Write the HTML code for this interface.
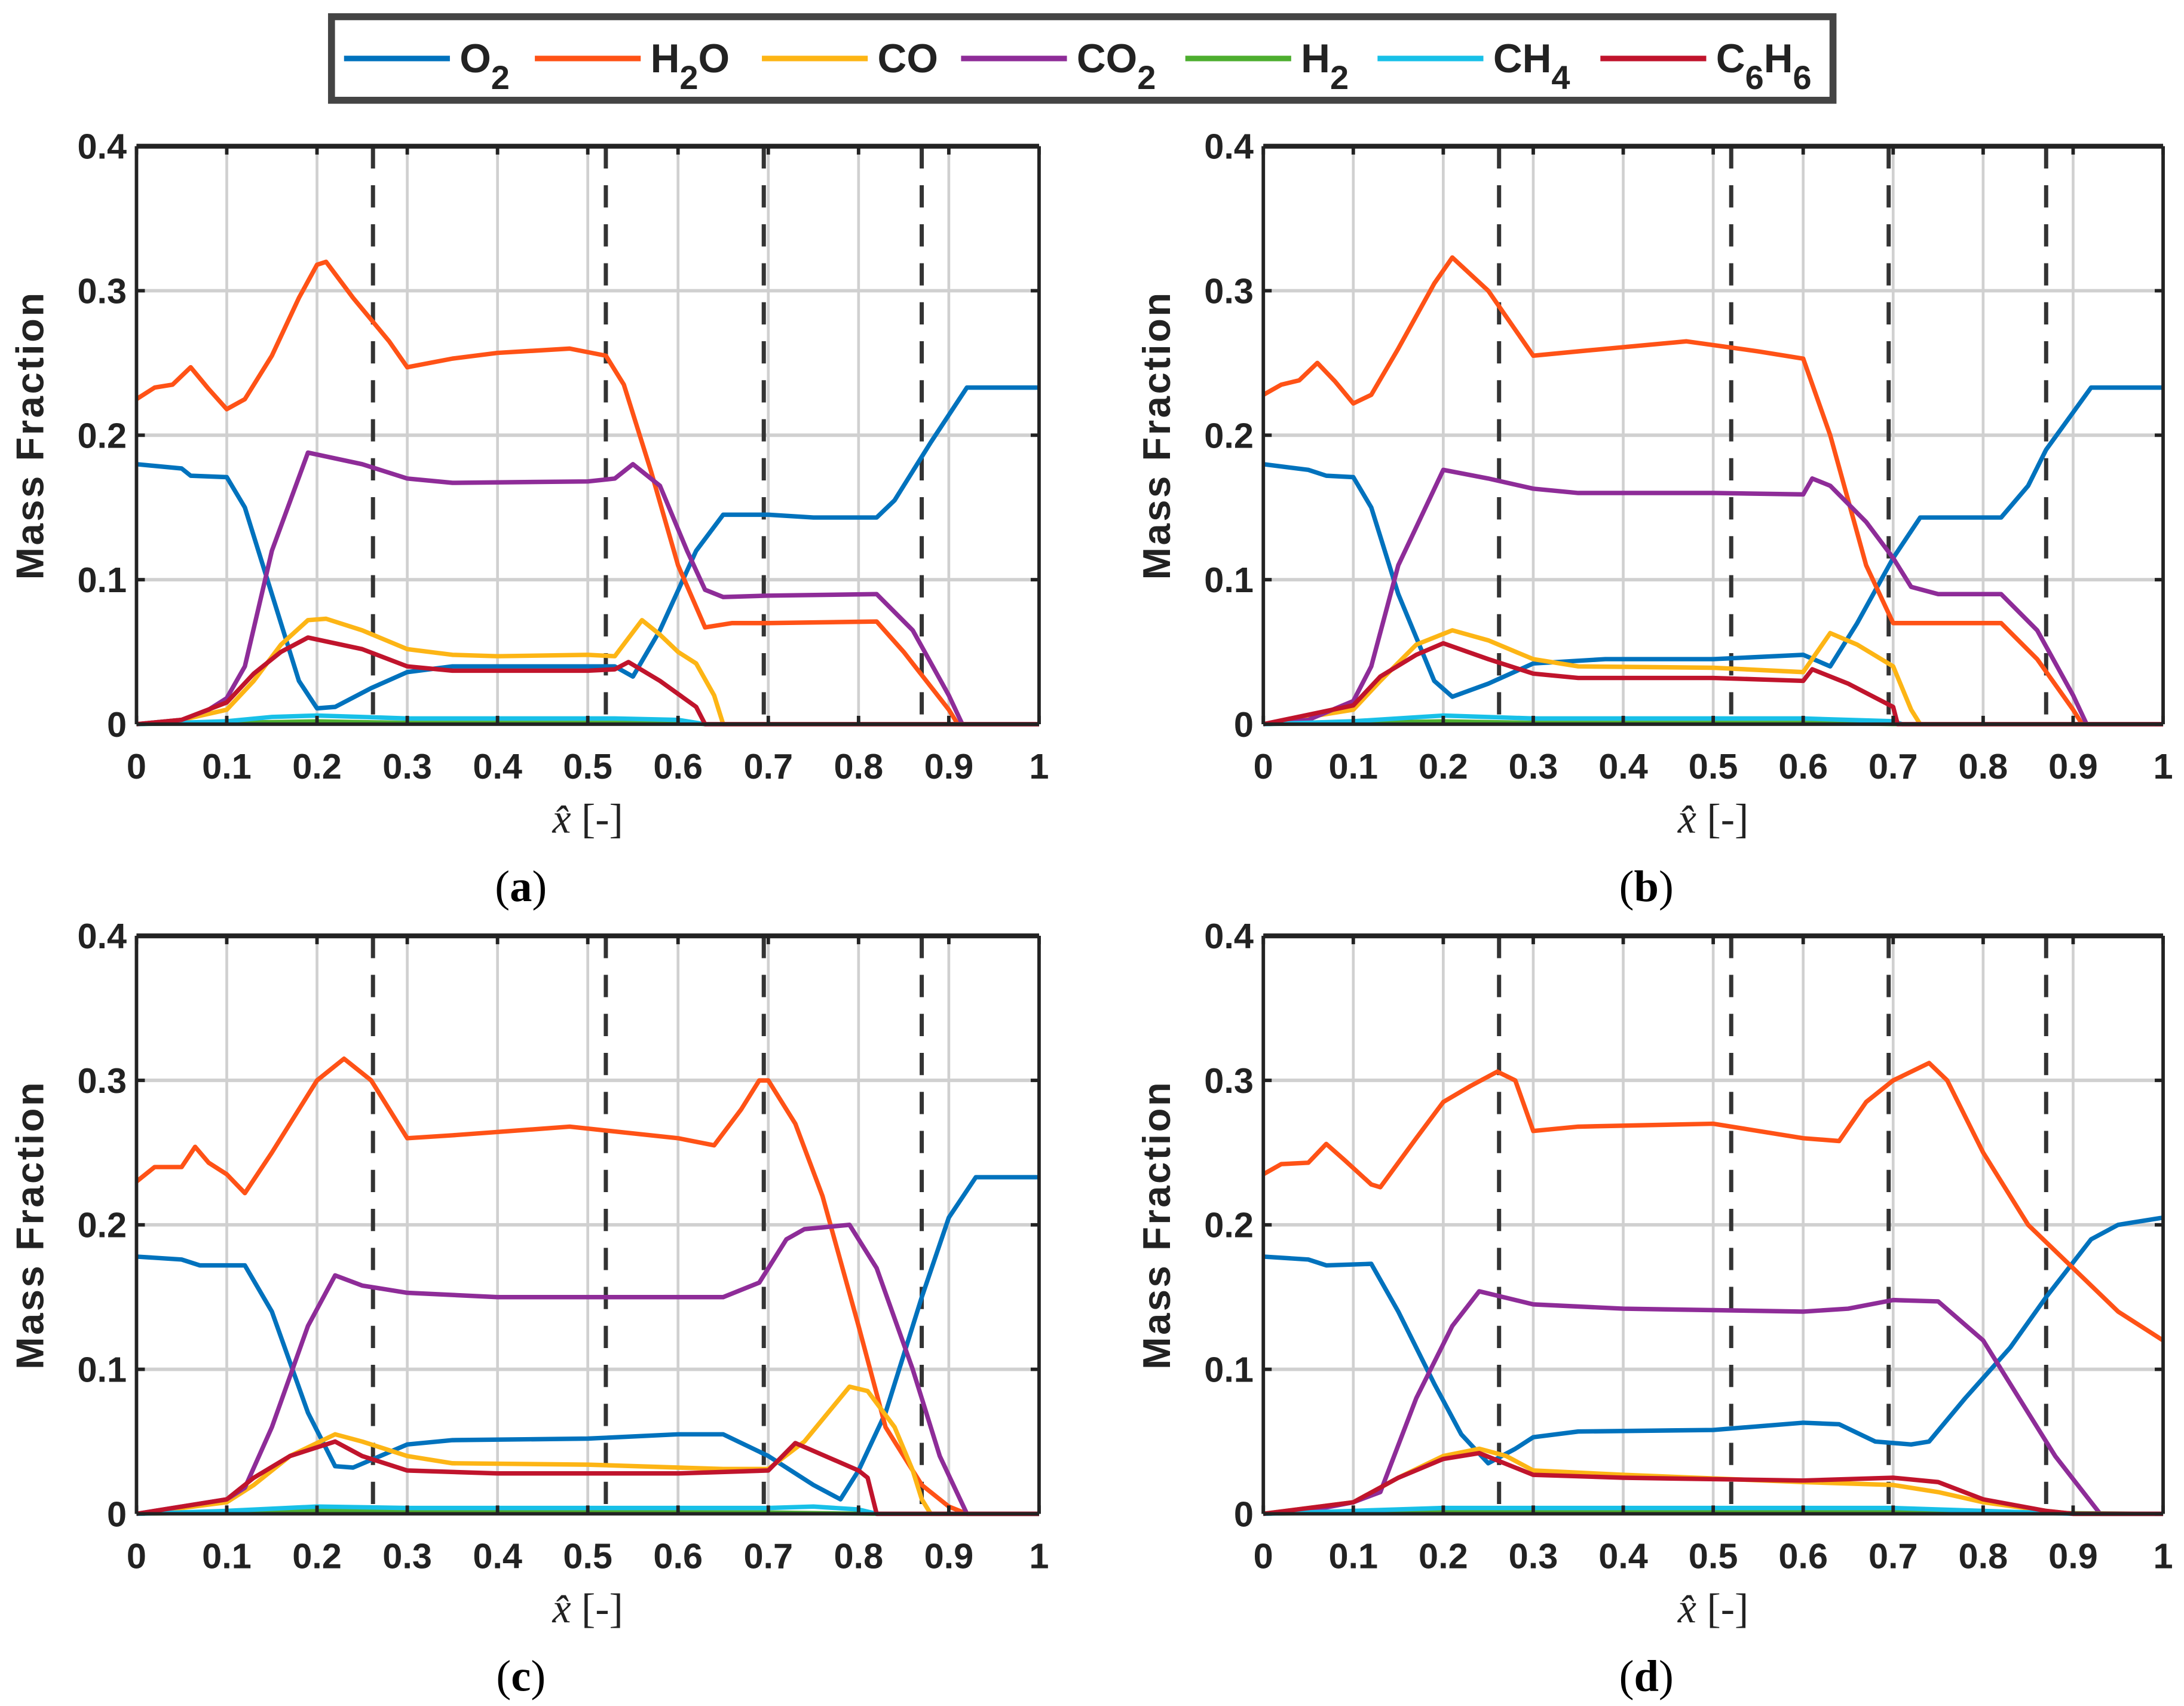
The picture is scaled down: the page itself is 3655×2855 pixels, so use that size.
<!DOCTYPE html>
<html><head><meta charset="utf-8"><style>
html,body{margin:0;padding:0;background:#fff}
svg{display:block}
text{font-family:"Liberation Sans",Arial,sans-serif}
.tk{font-weight:bold;font-size:25.5px;fill:#222}
.serif{font-family:"Liberation Serif",serif}
</style></head><body>
<svg id="fig" xmlns="http://www.w3.org/2000/svg" width="3655" height="2855" viewBox="0 0 1568 1225" preserveAspectRatio="none">
<g id="legend">
<rect x="238" y="12" width="1078" height="60" fill="#fff" stroke="#444" stroke-width="5"/>
</g>
</svg>
<script>
const species = ["O2","H2O","CO","CO2","H2","CH4","C6H6"];
const colors = ["#0072BD","#FF5216","#FDB515","#8E2C98","#4DAE2F","#18C0E8","#C0142C"];
const yTicks = [0,0.1,0.2,0.3,0.4];
const xTicks = [0,0.1,0.2,0.3,0.4,0.5,0.6,0.7,0.8,0.9,1];
const dashedX = [0.262,0.52,0.695,0.87];
// panel a
const a_O2=[[0,0.18],[0.05,0.177],[0.06,0.172],[0.1,0.171],[0.12,0.15],[0.15,0.09],[0.18,0.03],[0.2,0.011],[0.22,0.012],[0.26,0.025],[0.3,0.036],[0.35,0.04],[0.5,0.04],[0.53,0.04],[0.55,0.033],[0.58,0.065],[0.62,0.12],[0.65,0.145],[0.7,0.145],[0.75,0.143],[0.82,0.143],[0.84,0.155],[0.88,0.195],[0.92,0.233],[1,0.233]];
const a_H2O=[[0,0.225],[0.02,0.233],[0.04,0.235],[0.06,0.247],[0.08,0.232],[0.1,0.218],[0.12,0.225],[0.15,0.255],[0.18,0.295],[0.2,0.318],[0.21,0.32],[0.24,0.295],[0.28,0.265],[0.3,0.247],[0.35,0.253],[0.4,0.257],[0.48,0.26],[0.52,0.255],[0.54,0.235],[0.57,0.175],[0.6,0.11],[0.63,0.067],[0.66,0.07],[0.7,0.07],[0.82,0.071],[0.85,0.05],[0.9,0.01],[0.91,0],[1,0]];
const a_CO=[[0,0],[0.05,0.003],[0.1,0.01],[0.13,0.03],[0.16,0.055],[0.19,0.072],[0.21,0.073],[0.25,0.065],[0.3,0.052],[0.35,0.048],[0.4,0.047],[0.5,0.048],[0.53,0.047],[0.56,0.072],[0.58,0.062],[0.6,0.05],[0.62,0.042],[0.64,0.02],[0.65,0],[1,0]];
const a_CO2=[[0,0],[0.05,0.003],[0.08,0.01],[0.1,0.018],[0.12,0.04],[0.15,0.12],[0.19,0.188],[0.25,0.18],[0.3,0.17],[0.35,0.167],[0.5,0.168],[0.53,0.17],[0.55,0.18],[0.58,0.165],[0.61,0.12],[0.63,0.093],[0.65,0.088],[0.7,0.089],[0.82,0.09],[0.86,0.065],[0.9,0.02],[0.915,0],[1,0]];
const a_H2=[[0,0],[0.1,0.001],[0.2,0.002],[0.3,0.001],[0.6,0.001],[0.63,0],[1,0]];
const a_CH4=[[0,0],[0.1,0.002],[0.15,0.005],[0.2,0.006],[0.25,0.005],[0.3,0.004],[0.53,0.004],[0.6,0.003],[0.63,0],[1,0]];
const a_C6H6=[[0,0],[0.05,0.003],[0.1,0.015],[0.13,0.035],[0.16,0.05],[0.19,0.06],[0.25,0.052],[0.3,0.04],[0.35,0.037],[0.5,0.037],[0.53,0.038],[0.545,0.043],[0.58,0.03],[0.62,0.012],[0.63,0],[1,0]];
// panel b
const b_O2=[[0,0.18],[0.05,0.176],[0.07,0.172],[0.1,0.171],[0.12,0.15],[0.15,0.09],[0.19,0.03],[0.21,0.019],[0.25,0.028],[0.3,0.042],[0.38,0.045],[0.5,0.045],[0.6,0.048],[0.63,0.04],[0.66,0.07],[0.7,0.115],[0.73,0.143],[0.82,0.143],[0.85,0.165],[0.87,0.19],[0.92,0.233],[1,0.233]];
const b_H2O=[[0,0.228],[0.02,0.235],[0.04,0.238],[0.06,0.25],[0.08,0.237],[0.1,0.222],[0.12,0.228],[0.15,0.26],[0.19,0.305],[0.21,0.323],[0.25,0.3],[0.3,0.255],[0.35,0.258],[0.47,0.265],[0.55,0.258],[0.6,0.253],[0.63,0.2],[0.67,0.11],[0.7,0.07],[0.72,0.07],[0.82,0.07],[0.86,0.045],[0.9,0.01],[0.91,0],[1,0]];
const b_CO=[[0,0],[0.1,0.01],[0.13,0.03],[0.17,0.055],[0.21,0.065],[0.25,0.058],[0.3,0.045],[0.35,0.04],[0.5,0.039],[0.6,0.036],[0.63,0.063],[0.66,0.055],[0.7,0.04],[0.72,0.01],[0.73,0],[1,0]];
const b_CO2=[[0,0],[0.05,0.003],[0.1,0.016],[0.12,0.04],[0.15,0.11],[0.2,0.176],[0.25,0.17],[0.3,0.163],[0.35,0.16],[0.5,0.16],[0.6,0.159],[0.61,0.17],[0.63,0.165],[0.67,0.14],[0.7,0.115],[0.72,0.095],[0.75,0.09],[0.82,0.09],[0.86,0.065],[0.9,0.02],[0.915,0],[1,0]];
const b_H2=[[0,0],[0.1,0.001],[0.2,0.002],[0.3,0.001],[0.6,0.001],[0.7,0],[1,0]];
const b_CH4=[[0,0],[0.1,0.002],[0.2,0.006],[0.3,0.004],[0.6,0.004],[0.7,0.002],[0.71,0],[1,0]];
const b_C6H6=[[0,0],[0.1,0.013],[0.13,0.033],[0.17,0.048],[0.2,0.056],[0.25,0.045],[0.3,0.035],[0.35,0.032],[0.5,0.032],[0.6,0.03],[0.61,0.038],[0.65,0.028],[0.7,0.012],[0.705,0],[1,0]];
// panel c
const c_O2=[[0,0.178],[0.05,0.176],[0.07,0.172],[0.12,0.172],[0.15,0.14],[0.19,0.07],[0.22,0.033],[0.24,0.032],[0.27,0.04],[0.3,0.048],[0.35,0.051],[0.5,0.052],[0.6,0.055],[0.65,0.055],[0.7,0.04],[0.75,0.02],[0.78,0.01],[0.8,0.03],[0.83,0.07],[0.87,0.15],[0.9,0.205],[0.93,0.233],[1,0.233]];
const c_H2O=[[0,0.23],[0.02,0.24],[0.05,0.24],[0.065,0.254],[0.08,0.243],[0.1,0.235],[0.12,0.222],[0.15,0.25],[0.2,0.3],[0.23,0.315],[0.26,0.3],[0.3,0.26],[0.35,0.262],[0.48,0.268],[0.6,0.26],[0.64,0.255],[0.67,0.28],[0.69,0.3],[0.7,0.3],[0.73,0.27],[0.76,0.22],[0.8,0.13],[0.83,0.06],[0.87,0.02],[0.9,0.005],[0.92,0],[1,0]];
const c_CO=[[0,0],[0.1,0.008],[0.13,0.02],[0.17,0.04],[0.22,0.055],[0.25,0.05],[0.3,0.04],[0.35,0.035],[0.5,0.034],[0.65,0.031],[0.7,0.031],[0.74,0.05],[0.79,0.088],[0.81,0.085],[0.84,0.06],[0.86,0.03],[0.87,0.01],[0.88,0],[1,0]];
const c_CO2=[[0,0],[0.1,0.01],[0.12,0.018],[0.15,0.06],[0.19,0.13],[0.22,0.165],[0.25,0.158],[0.3,0.153],[0.4,0.15],[0.6,0.15],[0.65,0.15],[0.69,0.16],[0.72,0.19],[0.74,0.197],[0.79,0.2],[0.82,0.17],[0.86,0.1],[0.89,0.04],[0.92,0],[1,0]];
const c_H2=[[0,0],[0.2,0.002],[0.7,0.001],[0.82,0],[1,0]];
const c_CH4=[[0,0],[0.1,0.002],[0.2,0.005],[0.3,0.004],[0.7,0.004],[0.75,0.005],[0.8,0.003],[0.82,0],[1,0]];
const c_C6H6=[[0,0],[0.1,0.01],[0.13,0.025],[0.17,0.04],[0.22,0.05],[0.25,0.04],[0.3,0.03],[0.4,0.028],[0.6,0.028],[0.7,0.03],[0.73,0.049],[0.8,0.03],[0.81,0.025],[0.82,0],[1,0]];
// panel d
const d_O2=[[0,0.178],[0.05,0.176],[0.07,0.172],[0.12,0.173],[0.15,0.14],[0.19,0.09],[0.22,0.055],[0.25,0.035],[0.28,0.045],[0.3,0.053],[0.35,0.057],[0.5,0.058],[0.6,0.063],[0.64,0.062],[0.68,0.05],[0.72,0.048],[0.74,0.05],[0.78,0.08],[0.83,0.115],[0.87,0.15],[0.92,0.19],[0.95,0.2],[1,0.205]];
const d_H2O=[[0,0.235],[0.02,0.242],[0.05,0.243],[0.07,0.256],[0.09,0.245],[0.12,0.228],[0.13,0.226],[0.17,0.26],[0.2,0.285],[0.23,0.296],[0.26,0.306],[0.28,0.3],[0.3,0.265],[0.35,0.268],[0.5,0.27],[0.6,0.26],[0.64,0.258],[0.67,0.285],[0.7,0.3],[0.74,0.312],[0.76,0.3],[0.8,0.25],[0.85,0.2],[0.9,0.17],[0.95,0.14],[1,0.12]];
const d_CO=[[0,0],[0.1,0.008],[0.15,0.025],[0.2,0.04],[0.24,0.045],[0.27,0.04],[0.3,0.03],[0.4,0.027],[0.6,0.022],[0.7,0.02],[0.75,0.015],[0.8,0.008],[0.87,0.002],[0.9,0],[1,0]];
const d_CO2=[[0,0],[0.05,0.002],[0.1,0.008],[0.13,0.015],[0.17,0.08],[0.21,0.13],[0.24,0.154],[0.3,0.145],[0.4,0.142],[0.6,0.14],[0.65,0.142],[0.7,0.148],[0.75,0.147],[0.8,0.12],[0.85,0.07],[0.88,0.04],[0.93,0],[1,0]];
const d_H2=[[0,0],[0.2,0.002],[0.6,0.002],[1,0]];
const d_CH4=[[0,0],[0.1,0.002],[0.2,0.004],[0.3,0.004],[0.7,0.004],[0.8,0.002],[0.9,0],[1,0]];
const d_C6H6=[[0,0],[0.1,0.008],[0.15,0.025],[0.2,0.038],[0.24,0.042],[0.3,0.027],[0.4,0.025],[0.6,0.023],[0.7,0.025],[0.75,0.022],[0.8,0.01],[0.87,0.002],[0.9,0],[1,0]];

const panelData = {
  a:[a_O2,a_H2O,a_CO,a_CO2,a_H2,a_CH4,a_C6H6],
  b:[b_O2,b_H2O,b_CO,b_CO2,b_H2,b_CH4,b_C6H6],
  c:[c_O2,c_H2O,c_CO,c_CO2,c_H2,c_CH4,c_C6H6],
  d:[d_O2,d_H2O,d_CO,d_CO2,d_H2,d_CH4,d_C6H6]
};
const NS="http://www.w3.org/2000/svg";
const svg=document.getElementById('fig');
function mk(tag,attrs,parent,txt){const e=document.createElementNS(NS,tag);for(const k in attrs)e.setAttribute(k,attrs[k]);if(txt!==undefined)e.textContent=txt;(parent||svg).appendChild(e);return e;}

// legend
const legendG=document.getElementById('legend');
const legLineX=[247,384,547,690,851,989,1149];
const legParts=[["O","2",""],["H","2","O"],["CO","",""],["CO","2",""],["H","2",""],["CH","4",""],["C","6","H","6"]];
species.forEach((s,i)=>{
  const g=mk('g',{},legendG);
  
  
  mk('line',{x1:legLineX[i],x2:legLineX[i]+76,y1:42,y2:42,stroke:colors[i],'stroke-width':4},g);
  const t=mk('text',{x:legLineX[i]+83,y:52,'font-weight':'bold','font-size':29,fill:'#222'},g);
  const p=legParts[i];
  for(let j=0;j<p.length;j++){
    if(!p[j])continue;
    const ts=mk('tspan',{},t,p[j]);
    if(j%2===1){ts.setAttribute('font-size','24');ts.setAttribute('dy','12');}
    else if(j>0){ts.setAttribute('dy','-12');}
  }
});

const panels=[
 {id:'a',x0:98,x1:746,y0:105,y1:520,lab:'a'},
 {id:'b',x0:907,x1:1553,y0:105,y1:520,lab:'b'},
 {id:'c',x0:98,x1:746,y0:672,y1:1087,lab:'c'},
 {id:'d',x0:907,x1:1553,y0:672,y1:1087,lab:'d'}
];
panels.forEach(P=>{
  const g=mk('g',{});
  
  
  const sx=v=>P.x0+v*(P.x1-P.x0);
  const sy=v=>P.y1-v/0.4*(P.y1-P.y0);
  xTicks.forEach(v=>{ if(v>0&&v<1) mk('line',{x1:sx(v),x2:sx(v),y1:P.y0,y2:P.y1,stroke:'#d0d0d0','stroke-width':2},g);});
  yTicks.forEach(v=>{ if(v>0&&v<0.4) mk('line',{x1:P.x0,x2:P.x1,y1:sy(v),y2:sy(v),stroke:'#d0d0d0','stroke-width':2.5},g);});
  dashedX.forEach(v=>{
    const l=mk('line',{x1:sx(v),x2:sx(v),y1:P.y0,y2:P.y1,stroke:'#333','stroke-width':3,'stroke-dasharray':'16,12'},g);
    
    
  });
  panelData[P.id].forEach((arr,i)=>{
    const d=arr.map((p,k)=>(k?'L':'M')+sx(p[0]).toFixed(1)+','+sy(p[1]).toFixed(1)).join('');
    const path=mk('path',{d:d,fill:'none',stroke:colors[i],'stroke-width':i===4?3:3.2,'stroke-linejoin':'round'},g);
    
    
  });
  mk('line',{x1:P.x0,x2:P.x1,y1:P.y1,y2:P.y1,stroke:'#222','stroke-width':2.5},g);
  mk('line',{x1:P.x0,x2:P.x1,y1:P.y0,y2:P.y0,stroke:'#222','stroke-width':3.5},g);
  mk('line',{x1:P.x0,x2:P.x0,y1:P.y0,y2:P.y1,stroke:'#222','stroke-width':2.5},g);
  mk('line',{x1:P.x1,x2:P.x1,y1:P.y0,y2:P.y1,stroke:'#222','stroke-width':2.5},g);
  xTicks.forEach(v=>{
    mk('line',{x1:sx(v),x2:sx(v),y1:P.y1,y2:P.y1-6,stroke:'#222','stroke-width':2.5},g);
    mk('line',{x1:sx(v),x2:sx(v),y1:P.y0,y2:P.y0+6,stroke:'#222','stroke-width':2.5},g);
    const t=mk('text',{x:sx(v),y:P.y1+39,'text-anchor':'middle',class:'tk'},g,String(v));
    
    
  });
  yTicks.forEach(v=>{
    mk('line',{x1:P.x0,x2:P.x0+6,y1:sy(v),y2:sy(v),stroke:'#222','stroke-width':2.5},g);
    mk('line',{x1:P.x1,x2:P.x1-6,y1:sy(v),y2:sy(v),stroke:'#222','stroke-width':2.5},g);
    const t=mk('text',{x:P.x0-7,y:sy(v)+9,'text-anchor':'end',class:'tk'},g,String(v));
    
    
  });
  const cy=(P.y0+P.y1)/2, cx=(P.x0+P.x1)/2;
  const yl=mk('text',{x:0,y:0,transform:`translate(${P.x0-67},${cy}) rotate(-90)`,'text-anchor':'middle','font-weight':'bold','font-size':28,'letter-spacing':1.5,fill:'#222'},g,'Mass Fraction');
  
  
  const xl=mk('text',{x:cx,y:P.y1+78,'text-anchor':'middle','font-size':30,fill:'#222',class:'serif'},g);
  
  
  mk('tspan',{'font-style':'italic'},xl,'x\u0302');
  mk('tspan',{},xl,' [-]');
  const pl=mk('text',{x:cx-48+(P.id==='b'||P.id==='d'?0:0),y:P.y1+127,'text-anchor':'middle','font-size':32,fill:'#000',class:'serif'},g);
  
  
  mk('tspan',{},pl,'(');
  mk('tspan',{'font-weight':'bold'},pl,P.lab);
  mk('tspan',{},pl,')');
});
</script>
</body></html>
